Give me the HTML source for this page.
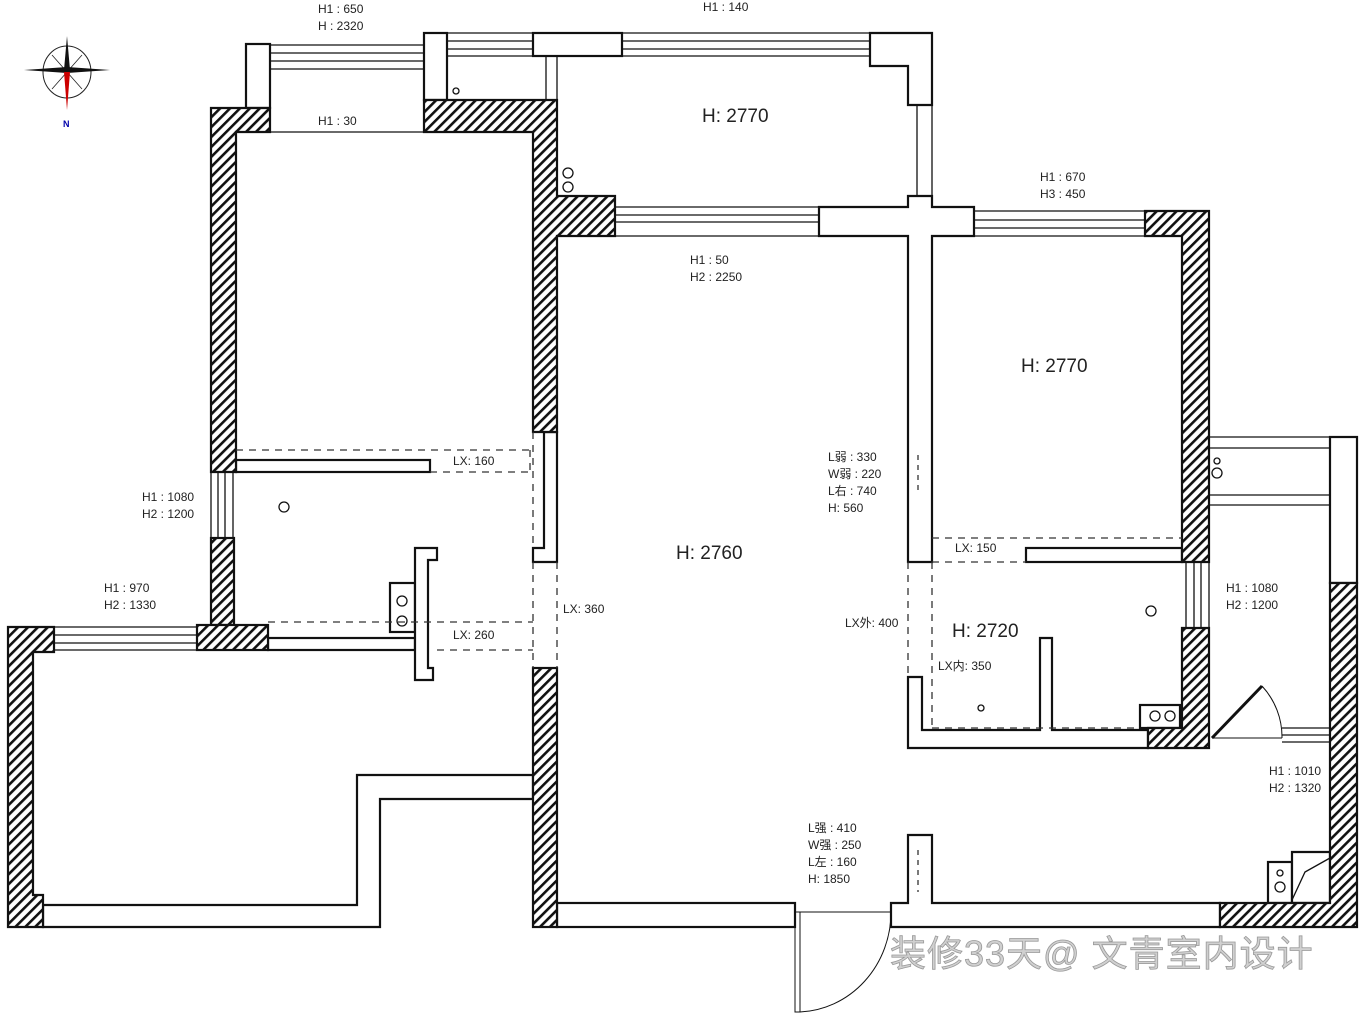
<!DOCTYPE html>
<html><head><meta charset="utf-8"><style>
html,body{margin:0;padding:0;background:#fff;}
svg{display:block}
text{font-family:"Liberation Sans","Noto Sans CJK SC",sans-serif;fill:#222}
.s{font-size:12px}
.b{font-size:19px}
</style></head><body>
<svg width="1364" height="1016" viewBox="0 0 1364 1016" xmlns="http://www.w3.org/2000/svg">
<defs>
<pattern id="h" width="7" height="7" patternUnits="userSpaceOnUse" patternTransform="rotate(45)">
<rect width="7" height="7" fill="#fff"/><rect width="2.6" height="7" fill="#111"/>
</pattern>
</defs>
<rect width="1364" height="1016" fill="#fff"/>
<g stroke="#111" stroke-width="2.2" fill="#fff">
<g stroke-width="1.3" fill="none">
<line x1="270" y1="45" x2="424" y2="45"/><line x1="270" y1="53" x2="424" y2="53"/><line x1="270" y1="61" x2="424" y2="61"/><line x1="270" y1="69" x2="424" y2="69"/>
<line x1="447" y1="33" x2="533" y2="33"/><line x1="447" y1="41" x2="533" y2="41"/><line x1="447" y1="49" x2="533" y2="49"/><line x1="447" y1="56" x2="533" y2="56"/>
<line x1="622" y1="33" x2="870" y2="33"/><line x1="622" y1="41" x2="870" y2="41"/><line x1="622" y1="49" x2="870" y2="49"/><line x1="622" y1="56" x2="870" y2="56"/>
<line x1="546" y1="56" x2="546" y2="100"/><line x1="557" y1="56" x2="557" y2="100"/>
<line x1="917" y1="105" x2="917" y2="196"/><line x1="932" y1="105" x2="932" y2="196"/>
<line x1="270" y1="132" x2="424" y2="132"/>
<line x1="615" y1="207" x2="819" y2="207"/><line x1="615" y1="215" x2="819" y2="215"/><line x1="615" y1="222" x2="819" y2="222"/><line x1="615" y1="236" x2="819" y2="236"/>
<line x1="974" y1="211" x2="1145" y2="211"/><line x1="974" y1="220" x2="1145" y2="220"/><line x1="974" y1="228" x2="1145" y2="228"/><line x1="974" y1="236" x2="1145" y2="236"/>
<line x1="211" y1="472" x2="211" y2="538"/><line x1="218" y1="472" x2="218" y2="538"/><line x1="225" y1="472" x2="225" y2="538"/><line x1="233" y1="472" x2="233" y2="538"/>
<line x1="54" y1="627" x2="197" y2="627"/><line x1="54" y1="635" x2="197" y2="635"/><line x1="54" y1="643" x2="197" y2="643"/><line x1="54" y1="650" x2="197" y2="650"/>
<line x1="1186" y1="562" x2="1186" y2="628"/><line x1="1194" y1="562" x2="1194" y2="628"/><line x1="1201" y1="562" x2="1201" y2="628"/><line x1="1209" y1="562" x2="1209" y2="628"/>
<line x1="1209" y1="437" x2="1330" y2="437"/><line x1="1209" y1="448" x2="1330" y2="448"/><line x1="1209" y1="495" x2="1330" y2="495"/><line x1="1209" y1="505" x2="1330" y2="505"/>
<line x1="1282" y1="728" x2="1330" y2="728"/><line x1="1282" y1="735" x2="1330" y2="735"/><line x1="1282" y1="742" x2="1330" y2="742"/>
<line x1="1212" y1="738" x2="1282" y2="738" stroke-width="1"/>
<line x1="800" y1="912" x2="891" y2="912" stroke-width="1"/>
</g>
<rect x="246" y="44" width="24" height="64"/>
<rect x="424" y="33" width="23" height="67"/>
<rect x="533" y="33" width="89" height="23"/>
<polygon points="870,33 932,33 932,105 908,105 908,66 870,66"/>
<polygon points="908,196 932,196 932,207 974,207 974,236 932,236 932,562 908,562 908,236 819,236 819,207 908,207"/>
<rect x="236" y="460" width="194" height="12"/>
<polygon points="544,432 557,432 557,562 533,562 533,548 544,548"/>
<rect x="268" y="638" width="147" height="12"/>
<rect x="390" y="583" width="25" height="49"/>
<polygon points="415,548 437,548 437,560 428,560 428,668 433,668 433,680 415,680"/>
<polygon points="43,905 357,905 357,775 533,775 533,799 380,799 380,927 43,927"/>
<rect x="1026" y="548" width="156" height="14"/>
<polygon points="908,677 922,677 922,730 1040,730 1040,638 1052,638 1052,730 1148,730 1148,748 908,748"/>
<rect x="1140" y="705" width="40" height="23"/>
<rect x="1330" y="437" width="27" height="146"/>
<rect x="557" y="903" width="238" height="24"/>
<polygon points="891,903 908,903 908,835 932,835 932,903 1220,903 1220,927 891,927"/>
<rect x="1268" y="862" width="24" height="41"/>
<polygon points="1292,903 1292,852 1306,852 1330,852 1330,903" fill="#fff"/>
<g fill="url(#h)">
<polygon points="211,108 270,108 270,132 236,132 236,472 211,472"/>
<polygon points="424,100 557,100 557,196 615,196 615,236 557,236 557,432 533,432 533,132 424,132"/>
<rect x="211" y="538" width="23" height="87"/>
<rect x="197" y="625" width="71" height="25"/>
<polygon points="8,627 54,627 54,652 33,652 33,895 43,895 43,927 8,927"/>
<rect x="533" y="668" width="24" height="259"/>
<polygon points="1145,211 1209,211 1209,562 1182,562 1182,236 1145,236"/>
<polygon points="1182,628 1209,628 1209,748 1148,748 1148,728 1182,728"/>
<polygon points="1330,583 1357,583 1357,927 1220,927 1220,903 1330,903"/>
</g>
</g>
<g stroke="#111" fill="none" stroke-width="1.3">
<polyline points="1292,900 1305,872 1330,858"/>
<line x1="1212" y1="738" x2="1262" y2="686" stroke-width="3"/>
<path d="M1262,686 A75,75 0 0 1 1282,738" stroke-width="1"/>
<rect x="795" y="912" width="5" height="100" stroke-width="1"/>
<path d="M800,1012 A95,100 0 0 0 891,912" stroke-width="1"/>
<circle cx="456" cy="91" r="3"/>
<circle cx="568" cy="173" r="5"/><circle cx="568" cy="187" r="5"/>
<circle cx="284" cy="507" r="5"/>
<circle cx="402" cy="601" r="5"/><circle cx="402" cy="621" r="5"/>
<circle cx="1151" cy="611" r="5"/>
<circle cx="1155" cy="716" r="5"/><circle cx="1170" cy="716" r="5"/>
<circle cx="981" cy="708" r="3"/>
<circle cx="1217" cy="461" r="3"/><circle cx="1217" cy="473" r="5"/>
<circle cx="1280" cy="873" r="3"/><circle cx="1280" cy="887" r="5"/>
</g>
<g stroke="#333" fill="none" stroke-width="1.3" stroke-dasharray="7,6">
<line x1="236" y1="450" x2="533" y2="450"/><line x1="430" y1="472" x2="533" y2="472"/><line x1="530" y1="450" x2="530" y2="472"/>
<line x1="533" y1="432" x2="533" y2="548"/>
<line x1="533" y1="562" x2="533" y2="668"/><line x1="557" y1="562" x2="557" y2="668"/>
<line x1="268" y1="622" x2="533" y2="622"/><line x1="437" y1="650" x2="533" y2="650"/>
<line x1="932" y1="538" x2="1182" y2="538"/><line x1="932" y1="562" x2="1026" y2="562"/>
<line x1="908" y1="562" x2="908" y2="677"/><line x1="932" y1="562" x2="932" y2="728"/>
<line x1="932" y1="728" x2="1140" y2="728"/>
<line x1="918" y1="455" x2="918" y2="490" stroke-dasharray="5,5"/>
<line x1="918" y1="850" x2="918" y2="892" stroke-dasharray="5,5"/>
</g>
<g>
<ellipse cx="67" cy="72" rx="24" ry="26" fill="none" stroke="#222" stroke-width="1"/>
<line x1="52" y1="55" x2="82" y2="89" stroke="#222" stroke-width="0.8"/><line x1="82" y1="55" x2="52" y2="89" stroke="#222" stroke-width="0.8"/>
<polygon points="67,36 70,70 64,70" fill="#111"/>
<polygon points="24,70 67,67 67,73" fill="#111"/>
<polygon points="110,70 67,67 67,73" fill="#111"/>
<polygon points="67,110 70,72 64,72" fill="#c00"/>
<text x="63" y="127" style="font-size:9px;font-weight:bold;fill:#00a">N</text>
</g>
<g class="s">
<text x="318" y="13" class="s">H1 : 650</text><text x="318" y="30" class="s">H : 2320</text>
<text x="703" y="11" class="s">H1 : 140</text>
<text x="318" y="125" class="s">H1 : 30</text>
<text x="1040" y="181" class="s">H1 : 670</text><text x="1040" y="198" class="s">H3 : 450</text>
<text x="690" y="264" class="s">H1 : 50</text><text x="690" y="281" class="s">H2 : 2250</text>
<text x="453" y="465" class="s">LX: 160</text>
<text x="142" y="501" class="s">H1 : 1080</text><text x="142" y="518" class="s">H2 : 1200</text>
<text x="104" y="592" class="s">H1 : 970</text><text x="104" y="609" class="s">H2 : 1330</text>
<text x="563" y="613" class="s">LX: 360</text>
<text x="453" y="639" class="s">LX: 260</text>
<text x="828" y="461" class="s">L弱 : 330</text><text x="828" y="478" class="s">W弱 : 220</text><text x="828" y="495" class="s">L右 : 740</text><text x="828" y="512" class="s">H: 560</text>
<text x="955" y="552" class="s">LX: 150</text>
<text x="845" y="627" class="s">LX外: 400</text>
<text x="938" y="670" class="s">LX内: 350</text>
<text x="1226" y="592" class="s">H1 : 1080</text><text x="1226" y="609" class="s">H2 : 1200</text>
<text x="1269" y="775" class="s">H1 : 1010</text><text x="1269" y="792" class="s">H2 : 1320</text>
<text x="808" y="832" class="s">L强 : 410</text><text x="808" y="849" class="s">W强 : 250</text><text x="808" y="866" class="s">L左 : 160</text><text x="808" y="883" class="s">H: 1850</text>
</g>
<text x="702" y="122" class="b">H:  2770</text>
<text x="1021" y="372" class="b">H:  2770</text>
<text x="676" y="559" class="b">H:  2760</text>
<text x="952" y="637" class="b">H:  2720</text>
<text x="890" y="966" style="font-size:36px;letter-spacing:1px;fill:#d0d0d0;stroke:#999;stroke-width:0.8">装修33天@ 文青室内设计</text>
</svg>
</body></html>
